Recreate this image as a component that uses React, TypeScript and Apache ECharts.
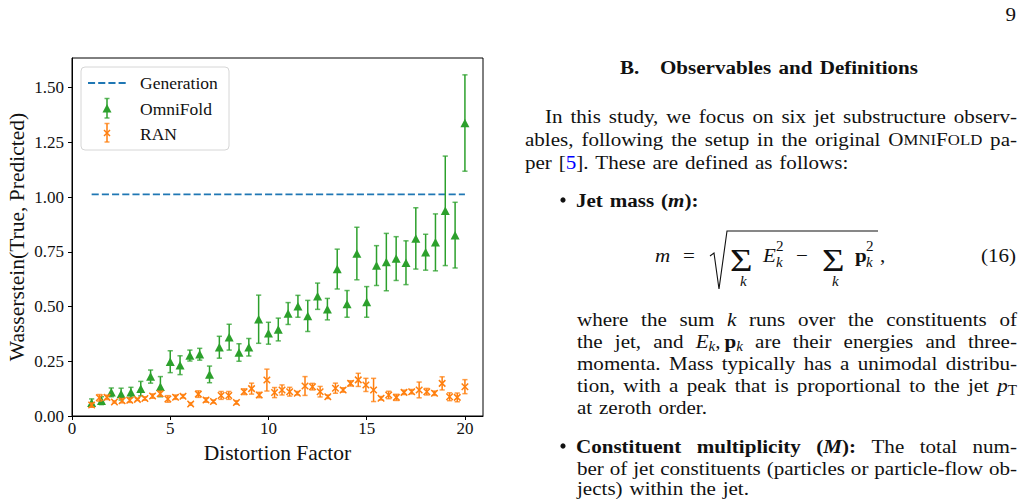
import React, { useEffect, useRef } from "react";
import * as echarts from "echarts";

// ---- data -------------------------------------------------------------
const xTicks = [0, 5, 10, 15, 20];
const yTicks = [0, 0.25, 0.5, 0.75, 1.0, 1.25, 1.5];

const generationX = [1, 20];
const generationY = [1.012, 1.012];

const omniX = [1, 1.5, 2, 2.5, 3, 3.5, 4, 4.5, 5, 5.5, 6, 6.5, 7, 7.5, 8, 8.5, 9, 9.5, 10, 10.5, 11, 11.5, 12, 12.5, 13, 13.5, 14, 14.5, 15, 15.5, 16, 16.5, 17, 17.5, 18, 18.5, 19, 19.5, 20];
const omniY = [0.06, 0.07, 0.108, 0.1, 0.108, 0.125, 0.18, 0.134, 0.248, 0.232, 0.276, 0.282, 0.19, 0.314, 0.36, 0.29, 0.314, 0.442, 0.378, 0.395, 0.468, 0.501, 0.457, 0.547, 0.488, 0.671, 0.512, 0.742, 0.521, 0.687, 0.703, 0.719, 0.7, 0.811, 0.748, 0.793, 0.937, 0.826, 1.338];
const omniErr = [0.018, 0.018, 0.02, 0.027, 0.023, 0.033, 0.03, 0.046, 0.05, 0.043, 0.025, 0.027, 0.038, 0.05, 0.059, 0.04, 0.04, 0.11, 0.05, 0.052, 0.05, 0.05, 0.071, 0.06, 0.049, 0.091, 0.061, 0.12, 0.07, 0.091, 0.131, 0.1, 0.1, 0.14, 0.082, 0.13, 0.25, 0.15, 0.22];

const ranX = [1.0, 1.39, 1.78, 2.16, 2.55, 2.94, 3.33, 3.71, 4.1, 4.49, 4.88, 5.27, 5.65, 6.04, 6.43, 6.82, 7.2, 7.59, 7.98, 8.37, 8.76, 9.14, 9.53, 9.92, 10.31, 10.69, 11.08, 11.47, 11.86, 12.24, 12.63, 13.02, 13.41, 13.8, 14.18, 14.57, 14.96, 15.35, 15.73, 16.12, 16.51, 16.9, 17.29, 17.67, 18.06, 18.45, 18.84, 19.22, 19.61, 20.0];
const ranY = [0.05, 0.083, 0.085, 0.064, 0.07, 0.072, 0.076, 0.08, 0.091, 0.102, 0.078, 0.086, 0.09, 0.055, 0.1, 0.073, 0.066, 0.094, 0.094, 0.062, 0.111, 0.125, 0.096, 0.164, 0.107, 0.119, 0.111, 0.104, 0.137, 0.134, 0.111, 0.088, 0.127, 0.119, 0.149, 0.165, 0.142, 0.119, 0.081, 0.096, 0.085, 0.108, 0.111, 0.119, 0.111, 0.104, 0.149, 0.088, 0.085, 0.134];
const ranErr = [0.01, 0.015, 0.01, 0.005, 0.01, 0.01, 0.005, 0.008, 0.01, 0.012, 0.015, 0.01, 0.008, 0.006, 0.015, 0.01, 0.007, 0.018, 0.018, 0.008, 0.013, 0.025, 0.012, 0.05, 0.023, 0.023, 0.02, 0.008, 0.043, 0.015, 0.024, 0.008, 0.023, 0.01, 0.012, 0.03, 0.03, 0.053, 0.008, 0.017, 0.014, 0.01, 0.01, 0.036, 0.015, 0.01, 0.03, 0.018, 0.02, 0.032];

// ---- styles -----------------------------------------------------------
const BLUE = "#1f77b4";
const GREEN = "#2ca02c";
const ORANGE = "#ff7f0e";
const INK = "#111";
const SERIF = '"Liberation Serif", "DejaVu Serif", serif';
const FS = 19.5;
// body text is drawn slightly widened to get the proportions of a book face
const SX = 1.08;

// ---- text layout helpers for the page column ---------------------------
type Piece = { t?: string; gap?: number; b?: boolean; i?: boolean; s?: number; dy?: number; c?: string };
type Word = Piece[];

let measureCtx: CanvasRenderingContext2D | null = null;
function fontOf(p: Piece) {
  return `${p.i ? "italic " : ""}${p.b ? "bold " : ""}${p.s ?? FS}px ${SERIF}`;
}
function pieceWidth(p: Piece) {
  if (p.gap !== undefined) return p.gap;
  if (!measureCtx) measureCtx = document.createElement("canvas").getContext("2d");
  measureCtx!.font = fontOf(p);
  return measureCtx!.measureText(p.t || "").width * SX;
}
function textEl(p: Piece, x: number, baseline: number, align = "left") {
  const size = p.s ?? FS;
  return {
    type: "text",
    x,
    y: baseline + (p.dy ?? 0) - 0.31 * size,
    scaleX: SX,
    silent: true,
    style: { text: p.t, font: fontOf(p), fill: p.c ?? INK, textAlign: align, verticalAlign: "middle" },
  };
}
const words = (s: string, extra: Piece = {}): Word[] => s.split(" ").map((t) => [{ ...extra, t }]);

function layoutLine(ws: Word[], x0: number, baseline: number, x1?: number) {
  const widths = ws.map((w) => w.reduce((a, p) => a + pieceWidth(p), 0));
  const total = widths.reduce((a, b) => a + b, 0);
  const gap = x1 !== undefined && ws.length > 1 ? (x1 - x0 - total) / (ws.length - 1) : FS * 0.35;
  const out: any[] = [];
  let x = x0;
  ws.forEach((w, wi) => {
    let px = x;
    w.forEach((p) => {
      if (p.t) out.push(textEl(p, px, baseline));
      px += pieceWidth(p);
    });
    x += widths[wi] + gap;
  });
  return out;
}

const bullet = (y: number) => ({
  type: "circle",
  silent: true,
  shape: { cx: 563, cy: y, r: 2.6 },
  style: { fill: INK },
});

function pageText() {
  const R = 1017;
  const els: any[] = [];
  const sub = (t: string, italic = true, dy = 4): Piece => ({ t, i: italic, s: 14, dy });
  const sup = (t: string): Piece => ({ t, s: 14, dy: -10 });
  const small = 15.5;

  els.push(textEl({ t: "9" }, 1016, 20, "right"));

  // section heading
  els.push(textEl({ t: "B.", b: true }, 620, 73));
  els.push(...layoutLine(words("Observables and Definitions", { b: true }), 660, 73, 918));

  // first paragraph
  els.push(...layoutLine(words("In this study, we focus on six jet substructure observ-"), 545, 122, R));
  els.push(
    ...layoutLine(
      [
        ...words("ables, following the setup in the original"),
        [{ t: "O" }, { t: "MNI", s: small }, { t: "F" }, { t: "OLD", s: small }],
        [{ t: "pa-" }],
      ],
      525,
      145,
      R
    )
  );
  els.push(
    ...layoutLine(
      [[{ t: "per" }], [{ t: "[" }, { t: "5", c: "#0000ff" }, { t: "]." }], ...words("These are defined as follows:")],
      525,
      168
    )
  );

  // bullet: jet mass
  els.push(bullet(200));
  els.push(
    ...layoutLine(
      [[{ t: "Jet", b: true }], [{ t: "mass", b: true }], [{ t: "(", b: true }, { t: "m", b: true, i: true }, { t: "):", b: true }]],
      576,
      206
    )
  );

  // displayed equation (16)
  const eb = 261;
  els.push(textEl({ t: "m", i: true }, 655, eb));
  els.push(textEl({ t: "=" }, 683, eb));
  els.push({
    type: "polyline",
    silent: true,
    shape: { points: [[710, 256], [714, 253], [719, 289], [727, 231], [878, 231]] },
    style: { stroke: INK, lineWidth: 1.1, fill: "none" },
  });
  const sigma = (x: number) => ({
    type: "text",
    x,
    y: 270 - 0.31 * 31,
    scaleX: 1.25,
    silent: true,
    style: { text: "Σ", font: `31px ${SERIF}`, fill: INK, textAlign: "left", verticalAlign: "middle" },
  });
  els.push(sigma(730));
  els.push(textEl({ t: "k", i: true, s: 14 }, 740, 286));
  els.push(textEl({ t: "E", i: true }, 763, eb));
  els.push(textEl(sup("2"), 776, eb));
  els.push(textEl(sub("k", true, 6), 776, eb));
  els.push(textEl({ t: "−" }, 796, eb));
  els.push(sigma(822));
  els.push(textEl({ t: "k", i: true, s: 14 }, 832, 286));
  els.push(textEl({ t: "p", b: true }, 855, eb));
  els.push(textEl(sup("2"), 866, eb));
  els.push(textEl(sub("k", true, 6), 866, eb));
  els.push(textEl({ t: "," }, 880, eb));
  els.push(textEl({ t: "(16)" }, 1016, eb, "right"));

  // paragraph after the equation
  const L = 577;
  els.push(
    ...layoutLine(
      [...words("where the sum"), [{ t: "k", i: true }], ...words("runs over the constituents of")],
      L,
      325,
      R
    )
  );
  els.push(
    ...layoutLine(
      [
        ...words("the jet, and"),
        [{ t: "E", i: true }, sub("k"), { t: "," }, { gap: 4 }, { t: "p", b: true }, sub("k")],
        ...words("are their energies and three-"),
      ],
      L,
      347,
      R
    )
  );
  els.push(...layoutLine(words("momenta. Mass typically has a unimodal distribu-"), L, 369, R));
  els.push(
    ...layoutLine(
      [...words("tion, with a peak that is proportional to the jet"), [{ t: "p", i: true }, sub("T", false)]],
      L,
      391,
      R
    )
  );
  els.push(...layoutLine(words("at zeroth order."), L, 413));

  // bullet: constituent multiplicity
  els.push(bullet(446));
  els.push(
    ...layoutLine(
      [
        [{ t: "Constituent", b: true }],
        [{ t: "multiplicity", b: true }],
        [{ t: "(", b: true }, { t: "M", b: true, i: true }, { t: "):", b: true }],
        ...words("The total num-"),
      ],
      576,
      452,
      R
    )
  );
  els.push(...layoutLine(words("ber of jet constituents (particles or particle-flow ob-"), L, 474, R));
  els.push(...layoutLine(words("jects) within the jet."), L, 494));
  return els;
}

// ---- legend drawn inside the axes --------------------------------------
function legendEls() {
  const lx = 107;
  const els: any[] = [
    {
      type: "rect",
      silent: true,
      shape: { x: 81, y: 67, width: 148, height: 83, r: 4 },
      style: { fill: "rgba(255,255,255,0.85)", stroke: "#d6d6d6", lineWidth: 1 },
    },
    {
      type: "line",
      silent: true,
      shape: { x1: 88, y1: 83, x2: 126, y2: 83 },
      style: { stroke: BLUE, lineWidth: 1.9, lineDash: [7.1, 3.1] },
    },
  ];
  const bar = (y1: number, y2: number, color: string) => [
    { type: "line", silent: true, shape: { x1: lx, y1, x2: lx, y2 }, style: { stroke: color, lineWidth: 1.5 } },
    { type: "line", silent: true, shape: { x1: lx - 2.5, y1, x2: lx + 2.5, y2: y1 }, style: { stroke: color, lineWidth: 1.5, opacity: 0.75 } },
    { type: "line", silent: true, shape: { x1: lx - 2.5, y1: y2, x2: lx + 2.5, y2 }, style: { stroke: color, lineWidth: 1.5, opacity: 0.75 } },
  ];
  els.push(...bar(98.5, 118, GREEN));
  els.push({
    type: "polygon",
    silent: true,
    shape: { points: [[lx, 104], [lx - 4.5, 112.5], [lx + 4.5, 112.5]] },
    style: { fill: GREEN },
  });
  els.push(...bar(123.5, 142, ORANGE));
  els.push({
    type: "polyline",
    silent: true,
    shape: { points: [[lx - 3, 130], [lx + 3, 136]] },
    style: { stroke: ORANGE, lineWidth: 1.5, fill: "none" },
  });
  els.push({
    type: "polyline",
    silent: true,
    shape: { points: [[lx + 3, 130], [lx - 3, 136]] },
    style: { stroke: ORANGE, lineWidth: 1.5, fill: "none" },
  });
  const lab = (t: string, y: number) => ({
    type: "text",
    x: 140,
    y,
    silent: true,
    style: { text: t, font: `17.5px ${SERIF}`, fill: INK, textAlign: "left", verticalAlign: "middle" },
  });
  els.push(lab("Generation", 83), lab("OmniFold", 108.5), lab("RAN", 133.5));
  return els.map((e) => ({ ...e, z: 100 }));
}

// ---- error bar renderer ------------------------------------------------
function errorBars(color: string) {
  return (_params: any, api: any) => {
    const x = api.value(0);
    const y = api.value(1);
    const e = api.value(2);
    const top = api.coord([x, y + e]);
    const bot = api.coord([x, y - e]);
    const cw = 2.6;
    const st = { stroke: color, lineWidth: 1.5 };
    const cap = { stroke: color, lineWidth: 1.5, opacity: 0.75 };
    return {
      type: "group",
      children: [
        { type: "line", shape: { x1: top[0], y1: top[1], x2: bot[0], y2: bot[1] }, style: st },
        { type: "line", shape: { x1: top[0] - cw, y1: top[1], x2: top[0] + cw, y2: top[1] }, style: cap },
        { type: "line", shape: { x1: bot[0] - cw, y1: bot[1], x2: bot[0] + cw, y2: bot[1] }, style: cap },
      ],
    };
  };
}

function buildOption(): any {
  const axisText = { fontFamily: SERIF, fontSize: 17, color: INK };
  return {
    animation: false,
    backgroundColor: "#fff",
    grid: { left: 72, top: 58, width: 411, height: 358, show: true, borderColor: "#000", borderWidth: 1, backgroundColor: "transparent" },
    xAxis: {
      type: "value",
      min: 0,
      max: 20.92,
      name: "Distortion Factor",
      nameLocation: "middle",
      nameGap: 25,
      nameTextStyle: { fontFamily: SERIF, fontSize: 21.5, color: INK },
      axisLine: { show: true, lineStyle: { color: "#000", width: 1 } },
      axisTick: { show: true, inside: false, length: 4, customValues: xTicks, lineStyle: { color: "#000" } },
      axisLabel: { ...axisText, margin: 4, customValues: xTicks, formatter: (v: number) => String(v) },
      splitLine: { show: false },
    },
    yAxis: {
      type: "value",
      min: 0,
      max: 1.635,
      name: "Wasserstein(True, Predicted)",
      nameLocation: "middle",
      nameGap: 44,
      nameTextStyle: { fontFamily: SERIF, fontSize: 21.5, color: INK },
      axisLine: { show: true, lineStyle: { color: "#000", width: 1 } },
      axisTick: { show: true, inside: false, length: 4, customValues: yTicks, lineStyle: { color: "#000" } },
      axisLabel: { ...axisText, margin: 8, customValues: yTicks, formatter: (v: number) => v.toFixed(2) },
      splitLine: { show: false },
    },
    series: [
      {
        name: "Generation",
        type: "line",
        data: generationX.map((x, i) => [x, generationY[i]]),
        symbol: "none",
        lineStyle: { color: BLUE, width: 1.9, type: [7.1, 3.1] },
        z: 2,
      },
      {
        name: "OmniFold",
        type: "custom",
        data: omniX.map((x, i) => [x, omniY[i], omniErr[i]]),
        encode: { x: 0, y: 1 },
        renderItem: errorBars(GREEN),
        z: 3,
      },
      {
        name: "OmniFold",
        type: "scatter",
        data: omniX.map((x, i) => [x, omniY[i]]),
        symbol: "triangle",
        symbolSize: [9, 8.5],
        itemStyle: { color: GREEN, opacity: 1 },
        z: 4,
      },
      {
        name: "RAN",
        type: "custom",
        data: ranX.map((x, i) => [x, ranY[i], ranErr[i]]),
        encode: { x: 0, y: 1 },
        renderItem: errorBars(ORANGE),
        z: 5,
      },
      {
        name: "RAN",
        type: "scatter",
        data: ranX.map((x, i) => [x, ranY[i]]),
        symbol: "path://M0 0L10 10M10 0L0 10",
        symbolSize: 6.5,
        itemStyle: { color: "rgba(0,0,0,0)", borderColor: ORANGE, borderWidth: 1.5, opacity: 1 },
        z: 6,
      },
    ],
    graphic: { elements: [...legendEls(), ...pageText()] },
  };
}

export default function App() {
  const ref = useRef<HTMLDivElement>(null);
  useEffect(() => {
    if (!ref.current) return;
    const chart = echarts.init(ref.current, undefined, { renderer: "svg" });
    chart.setOption(buildOption());
    return () => chart.dispose();
  }, []);
  return (
    <div
      ref={ref}
      style={{ position: "fixed", left: 0, top: 0, width: 1023, height: 499, background: "#fff" }}
    />
  );
}
